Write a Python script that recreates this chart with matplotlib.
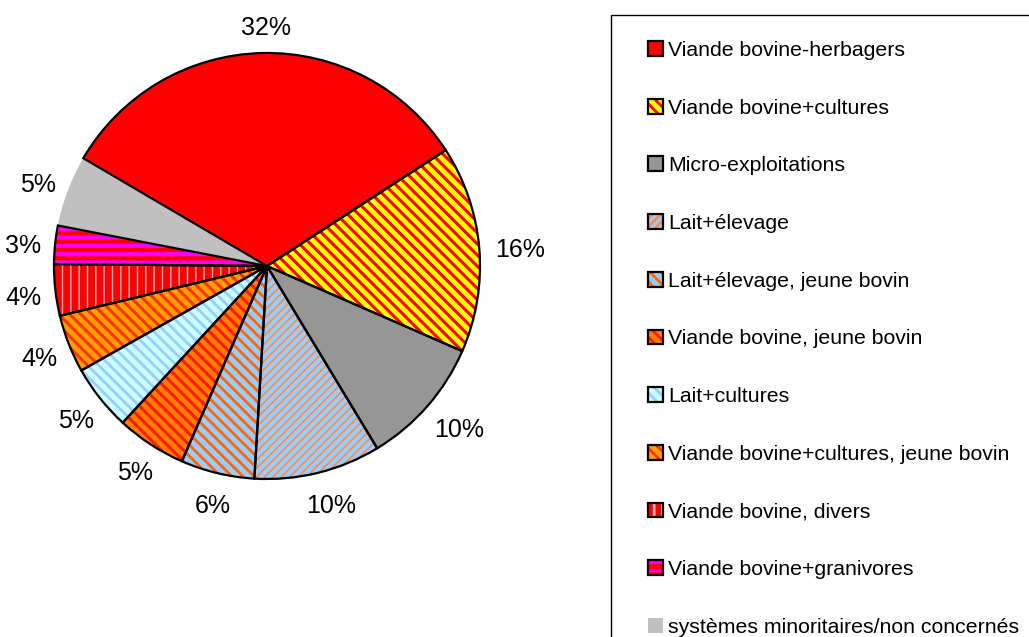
import matplotlib
matplotlib.use("Agg")
import matplotlib.pyplot as plt
from matplotlib.patches import Rectangle
from matplotlib.legend_handler import HandlerTuple
import numpy as np

plt.rcParams['font.family'] = ['Liberation Sans', 'DejaVu Sans']

# data
categories = [
    "Viande bovine-herbagers",
    "Viande bovine+cultures",
    "Micro-exploitations",
    "Lait+élevage",
    "Lait+élevage, jeune bovin",
    "Viande bovine, jeune bovin",
    "Lait+cultures",
    "Viande bovine+cultures, jeune bovin",
    "Viande bovine, divers",
    "Viande bovine+granivores",
    "systèmes minoritaires/non concernés",
]
shares = [32.4, 15.7, 9.8, 9.6, 5.6, 5.3, 5.0, 4.4, 3.9, 2.9, 5.4]

# fill style per slice: face colour, hatch pattern, hatch colour, hatch width
face_colors = ['#FF0000', '#FFFF00', '#969696', '#99CCFF', '#99CCFF', '#FF8000',
               '#CCFFFF', '#FFA000', '#FF0000', '#FF0000', '#C0C0C0']
hatches = [None, '\\\\\\', None, '////', '\\\\\\', '\\\\\\', '\\\\\\', '\\\\\\', '||', '--', None]
hatch_colors = ['#FF0000', '#FF0000', '#969696', '#FF8A3D', '#FF6600', '#FF1A00',
                '#99CCFF', '#FF3300', '#D0B8B8', '#FF00FF', '#C0C0C0']
hatch_widths = [1, 2.2, 1, 1.2, 2.0, 2.2, 2.0, 2.2, 1.0, 3.0, 1]

W, H = 1029, 637
fig = plt.figure(figsize=(W / 100, H / 100), dpi=100)

cx, cy, r = 267, 266, 213
ax = fig.add_axes([(cx - r) / W, (H - cy - r) / H, 2 * r / W, 2 * r / H])

plt.rcParams['hatch.linewidth'] = 2.0

# hatched fills (edge colour drives the hatch colour)
fills, _ = ax.pie(shares, startangle=149.6, counterclock=False,
                  colors=face_colors, wedgeprops=dict(linewidth=0))
for w, h, hc, hw in zip(fills, hatches, hatch_colors, hatch_widths):
    w.set_edgecolor(hc)
    w.set_linewidth(0)
    if h:
        w.set_hatch(h)
        if hasattr(w, 'set_hatch_linewidth'):
            w.set_hatch_linewidth(hw)

# black outlines on top
outlines, _ = ax.pie(shares, startangle=149.6, counterclock=False,
                     wedgeprops=dict(fill=False, edgecolor='black', linewidth=1.6))
outlines[-1].set_edgecolor('none')

ax.set_xlim(-1, 1)
ax.set_ylim(-1, 1)
ax.set_aspect('equal')
ax.axis('off')

# percentage labels outside the pie
for w, v in zip(outlines, shares):
    ang = np.deg2rad((w.theta1 + w.theta2) / 2)
    ux, uy = np.cos(ang), np.sin(ang)
    ax.annotate(f"{v:.0f}%", xy=(1.08 * ux, 1.08 * uy),
                xytext=(14 * ux + 3, 9 * uy - 3), textcoords='offset points',
                ha='center', va='center', fontsize=18, annotation_clip=False)

# legend box (runs off the figure edge)
fig.patches.append(Rectangle((611 / W, -0.1), 1.0, (H - 15) / H + 0.1,
                             transform=fig.transFigure, fill=False,
                             edgecolor='black', linewidth=1.0))

handles = list(zip(fills, outlines))
fig.legend(handles, categories, loc='upper left',
           bbox_to_anchor=(648 / W, 1 - 41 / H),
           handler_map={tuple: HandlerTuple(ndivide=1)},
           frameon=False, fontsize=15.3, borderpad=0, borderaxespad=0,
           handlelength=0.7, handleheight=0.7, handletextpad=0.25,
           labelspacing=1.82)

fig.savefig("out.png", dpi=100)
